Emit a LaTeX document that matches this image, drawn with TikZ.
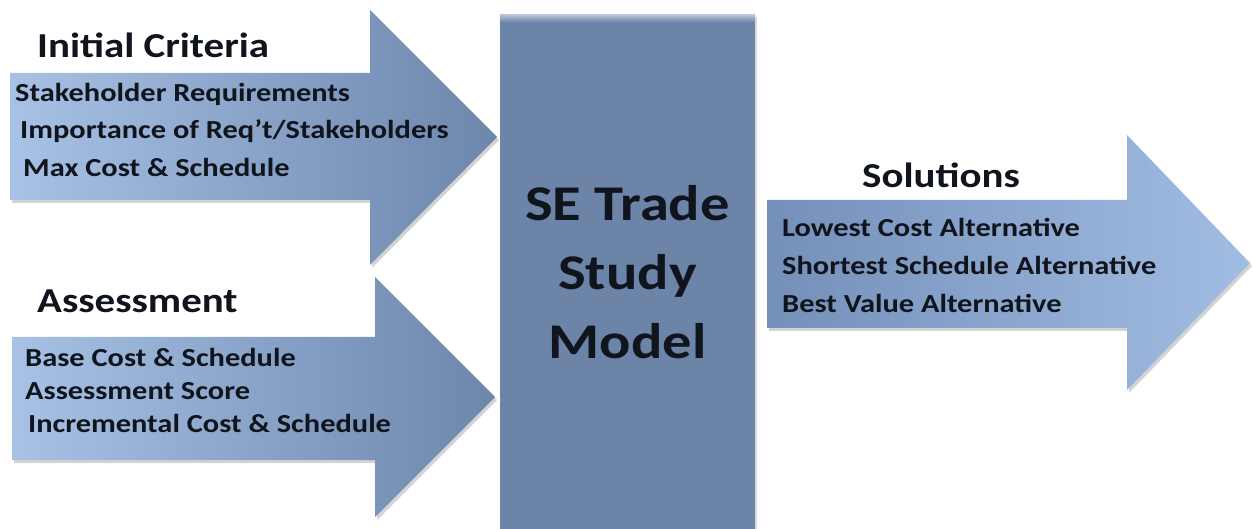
\documentclass[tikz,border=0pt]{standalone}
\usepackage{fontspec}
\setmainfont{Carlito}[FakeStretch=1.17]
\usepackage{tikz}
\usetikzlibrary{shadows}

\definecolor{inlight}{HTML}{A8C2E6}
\definecolor{indark}{HTML}{6C86AC}
\definecolor{outlight}{HTML}{A2BDE4}
\definecolor{outdark}{HTML}{7590B8}
\definecolor{boxfill}{HTML}{6B84A7}
\definecolor{txtdark}{HTML}{10141C}

\begin{document}
\begin{tikzpicture}[x=1pt, y=-1pt,
  inarrow/.style ={left color=inlight, right color=indark,
                   drop shadow={opacity=0.35, shadow xshift=2pt, shadow yshift=-3pt}},
  outarrow/.style={left color=outdark, right color=outlight,
                   drop shadow={opacity=0.35, shadow xshift=2pt, shadow yshift=-3pt}},
  corebox/.style ={fill=boxfill, rectangle, minimum width=255pt, minimum height=515pt,
                   inner sep=0pt, align=center, text=txtdark,
                   font=\fontsize{50}{69}\selectfont\bfseries,
                   drop shadow={opacity=0.3, shadow xshift=2pt, shadow yshift=-3pt}},
  heading/.style ={anchor=base west, inner sep=0pt, text=txtdark,
                   font=\fontsize{35}{40}\selectfont\bfseries},
  item/.style    ={anchor=base west, inner sep=0pt, text=txtdark,
                   font=\fontsize{26}{30}\selectfont\bfseries}
]
\useasboundingbox (0,0) rectangle (1254,529);

%% -- Initial Criteria arrow ------------------------------------------
\shade[inarrow] (10,73) -- (370,73) -- (370,10) -- (497,137)
    -- (370,265) -- (370,200) -- (10,200) -- cycle;
\node[heading] (crit)  at (37,58)  {Initial Criteria};
\node[item]    (crit1) at (15,102) {Stakeholder Requirements};
\node[item]    (crit2) at (20,139) {Importance of Req't/Stakeholders};
\node[item]    (crit3) at (23,177) {Max Cost \& Schedule};

%% -- Assessment arrow ------------------------------------------------
\shade[inarrow] (12,337) -- (375,337) -- (375,277) -- (495,397)
    -- (375,517) -- (375,460) -- (12,460) -- cycle;
\node[heading] (assess)  at (37,313) {Assessment};
\node[item]    (assess1) at (25,367) {Base Cost \& Schedule};
\node[item]    (assess2) at (25,400) {Assessment Score};
\node[item]    (assess3) at (28,433) {Incremental Cost \& Schedule};

%% -- Trade study model -----------------------------------------------
\node[corebox] (model) at (627.5,272) {SE Trade\\Study\\Model};
\shade[top color=boxfill!45!white, bottom color=boxfill]
    (model.north west) rectangle ([yshift=-8pt]model.north east);

%% -- Solutions arrow -------------------------------------------------
\shade[outarrow] (767,200) -- (1127,200) -- (1127,135) -- (1250,263)
    -- (1127,390) -- (1127,328) -- (767,328) -- cycle;
\node[heading] (sol)  at (862,188) {Solutions};
\node[item]    (sol1) at (782,237) {Lowest Cost Alternative};
\node[item]    (sol2) at (782,275) {Shortest Schedule Alternative};
\node[item]    (sol3) at (782,313) {Best Value Alternative};

\end{tikzpicture}
\end{document}
